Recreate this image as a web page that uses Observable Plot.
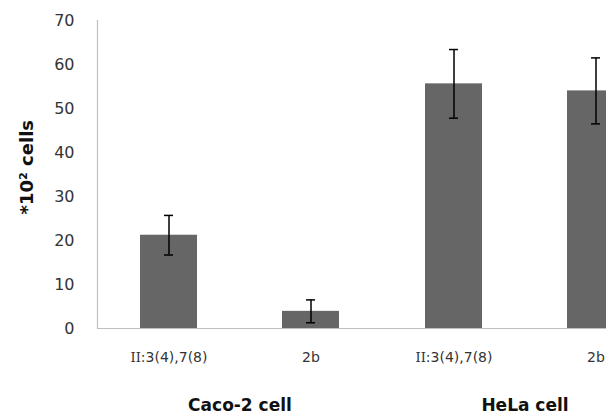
<!DOCTYPE html>
<html>
<head>
<meta charset="utf-8">
<script src="https://cdn.jsdelivr.net/npm/d3@7"></script>
<script src="https://cdn.jsdelivr.net/npm/@observablehq/plot@0.6"></script>
<style>
  html, body { margin: 0; padding: 0; background: #fff; overflow: hidden; }
  #chart svg { max-width: none !important; display: block; }
</style>
</head>
<body>
<div id="chart"></div>
<script>
const cells = ["Caco-2 cell", "Caco-2 cell", "HeLa cell", "HeLa cell"];
const treatments = ["Ⅱ:3(4),7(8)", "2b", "Ⅱ:3(4),7(8)", "2b"];
const means = [21.2, 3.9, 55.6, 54.0];
const errors = [4.5, 2.6, 7.8, 7.5];
const yTicks = [0, 10, 20, 30, 40, 50, 60, 70];
const yLabel = "*10² cells";

const data = cells.map((c, i) => ({
  cell: c, treat: treatments[i], mean: means[i],
  lo: means[i] - errors[i], hi: means[i] + errors[i]
}));

const font = "'DejaVu Sans', 'Noto Sans', sans-serif";

const chart = Plot.plot({
  width: 680,
  height: 414,
  marginLeft: 96,
  marginRight: 13,
  marginTop: 20,
  marginBottom: 86,
  style: { fontFamily: font, background: "#fff", color: "#3a3a3a" },
  x: { domain: ["Ⅱ:3(4),7(8)", "2b"], paddingInner: 0.6, paddingOuter: 0.3, label: null },
  fx: { domain: ["Caco-2 cell", "HeLa cell"], padding: 0, label: null },
  y: { domain: [0, 70], label: null },
  marks: [
    Plot.barY(data, { fx: "cell", x: "treat", y: "mean", fill: "#666666" }),
    Plot.ruleX(data, { fx: "cell", x: "treat", y1: "lo", y2: "hi", stroke: "#000", strokeWidth: 1.5 }),
    Plot.tickY(data, { fx: "cell", x: "treat", y: "lo", stroke: "#000", strokeWidth: 1.5, insetLeft: 24, insetRight: 24 }),
    Plot.tickY(data, { fx: "cell", x: "treat", y: "hi", stroke: "#000", strokeWidth: 1.5, insetLeft: 24, insetRight: 24 }),
    Plot.ruleY([0], { stroke: "#bfbfbf", strokeWidth: 1.2 }),
    Plot.frame({ anchor: "left", stroke: "#bfbfbf", strokeWidth: 1.2, facetAnchor: "left" }),
    Plot.axisY({ ticks: yTicks, tickSize: 0, tickPadding: 23, fontSize: 16, label: null, facetAnchor: "left", fill: "#333" }),
    Plot.axisX({ tickSize: 0, tickPadding: 24, fontSize: 14, label: null, fill: "#333" }),
    Plot.axisFx({ anchor: "bottom", tickSize: 0, tickPadding: 70, fontSize: 17, fontWeight: "bold", label: null, fill: "#111" }),
    Plot.text([yLabel], { frameAnchor: "left", rotate: -90, dx: -70, dy: 40, fontSize: 18, fontWeight: "bold", fill: "#111", facetAnchor: "left" })
  ]
});

// Render the roman numeral Ⅱ with a serif face, as in the reference
chart.querySelectorAll("text").forEach((t) => {
  const s = t.textContent;
  if (s.startsWith("Ⅱ") && t.children.length === 0) {
    t.textContent = "";
    const a = document.createElementNS("http://www.w3.org/2000/svg", "tspan");
    a.setAttribute("font-family", "'DejaVu Serif', 'Liberation Serif', serif");
    a.setAttribute("font-size", "13");
    a.textContent = "II";
    const b = document.createElementNS("http://www.w3.org/2000/svg", "tspan");
    b.textContent = s.slice(1);
    t.appendChild(a);
    t.appendChild(b);
  }
});

document.getElementById("chart").appendChild(chart);
</script>
</body>
</html>
